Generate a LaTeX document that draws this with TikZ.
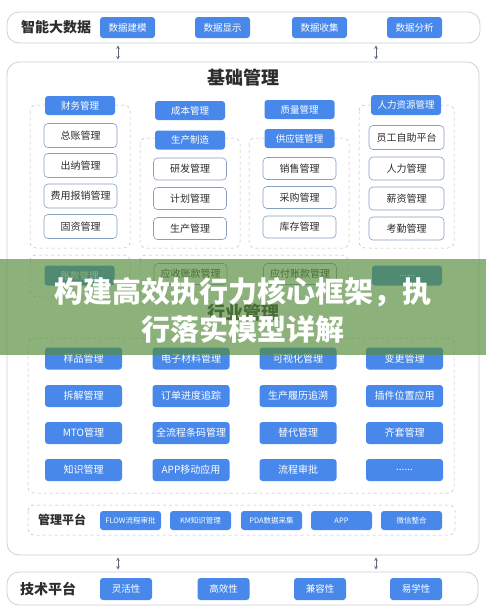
\documentclass[tikz,border=0pt]{standalone}
\usepackage{fontspec}
\setmainfont{Noto Sans CJK SC}
\usepackage{tikz}
\usetikzlibrary{arrows}
\usetikzlibrary{positioning}
\definecolor{btnblue}{RGB}{72,136,234}
\definecolor{bandgray}{RGB}{205,208,216}
\definecolor{itemborder}{RGB}{135,158,192}
\definecolor{dashgray}{RGB}{185,188,196}
\definecolor{txtdark}{RGB}{45,45,48}
\definecolor{arrowgray}{RGB}{95,105,125}
\definecolor{bannergreen}{RGB}{86,140,58}
\tikzstyle{band} = [rectangle, draw=bandgray, line width=0.8pt, rounded corners=12pt, fill=white, inner sep=0pt]
\tikzstyle{btn} = [rectangle, rounded corners=3pt, fill=btnblue, text=white, inner sep=0pt, minimum width=70, minimum height=19, font=\fontsize{9.5}{11}\selectfont]
\tikzstyle{item} = [rectangle, rounded corners=4pt, draw=itemborder, line width=0.6pt, fill=white, text=txtdark, inner sep=0pt, minimum width=73, minimum height=24, font=\fontsize{10}{12}\selectfont]
\tikzstyle{grp} = [draw=dashgray, dashed, line width=0.5pt, rounded corners=6pt]
\tikzstyle{heading} = [text=txtdark, font=\bfseries\fontsize{14}{16}\selectfont]
\tikzstyle{arrow} = [<->, >=stealth, draw=arrowgray, line width=0.6pt, shorten >=2pt, shorten <=2pt]
\begin{document}
\begin{tikzpicture}[x=1pt,y=-1pt]
\useasboundingbox (0,0) rectangle (486,616);
\fill [white] (0,0) rectangle (486,616);

% 智能大数据
\node [band, minimum width=473, minimum height=31] (bigdata) at (243.5,27.5) {};
\node [heading] (bigdatat) at (56,27.5) {智能大数据};
\node [btn, minimum width=55, minimum height=21] (m1) at (127.5,27.5) {数据建模};
\node [btn, minimum width=55, minimum height=21] (m2) at (222.5,27.5) {数据显示};
\node [btn, minimum width=55, minimum height=21] (m3) at (319.5,27.5) {数据收集};
\node [btn, minimum width=55, minimum height=21] (m4) at (414.5,27.5) {数据分析};

% 基础管理
\node [band, minimum width=472, minimum height=493] (base) at (243,308.5) {};
\node [heading, font=\bfseries\fontsize{18}{20}\selectfont] (baset) at (243,78) {基础管理};

\draw [grp] (30,105) rectangle (130,248);
\node [btn] (fin) at (80,105.5) {财务管理};
\node [item] (f1) at (80.5,135.5) {总账管理};
\node [item] (f2) at (80.5,165.5) {出纳管理};
\node [item] (f3) at (80.5,196) {费用报销管理};
\node [item] (f4) at (80.5,226.5) {固资管理};

\node [btn] (cost) at (190,110.5) {成本管理};
\draw [grp] (140,138) rectangle (240,248);
\node [btn] (prod) at (190,140) {生产制造};
\node [item, minimum height=22] (p1) at (190,169) {研发管理};
\node [item, minimum height=22] (p2) at (190,198.5) {计划管理};
\node [item, minimum height=22] (p3) at (190,228.5) {生产管理};

\node [btn] (qual) at (299.5,109.5) {质量管理};
\draw [grp] (249,138) rectangle (349,248);
\node [btn] (supp) at (299.5,138.5) {供应链管理};
\node [item, minimum height=22] (s1) at (299.5,168.5) {销售管理};
\node [item, minimum height=22] (s2) at (299.5,197.5) {采购管理};
\node [item, minimum height=22] (s3) at (299.5,227) {库存管理};

\draw [grp] (359,105) rectangle (454,248);
\node [btn, minimum height=20] (hr) at (406,105) {人力资源管理};
\node [item, minimum width=75] (h1) at (406.5,137.5) {员工自助平台};
\node [item, minimum width=75, minimum height=23] (h2) at (406.5,168.5) {人力管理};
\node [item, minimum width=75, minimum height=23] (h3) at (406.5,198.5) {薪资管理};
\node [item, minimum width=75, minimum height=23] (h4) at (406.5,228.5) {考勤管理};

\draw [grp] (30,255) rectangle (130,297);
\node [btn, minimum height=20] (acc) at (79.5,275.5) {账款管理};
\draw [grp] (140,255) rectangle (348,297);
\node [item, minimum height=21] (recv) at (190.5,274) {应收账款管理};
\node [item, minimum height=21] (pay) at (300,274) {应付账款管理};
\node [btn, minimum height=20] (accx) at (407,275.5) {......};

% 行业管理
\node [heading, font=\bfseries\fontsize{18}{20}\selectfont] (indt) at (243,313) {行业管理};
\draw [grp] (28,338) rectangle (454,493);
\node [btn, minimum width=77, minimum height=22, font=\fontsize{10}{12}\selectfont] (i11) at (83.5,358.5) {样品管理};
\node [btn, minimum width=77, minimum height=22, font=\fontsize{10}{12}\selectfont] (i12) at (191,358.5) {电子材料管理};
\node [btn, minimum width=77, minimum height=22, font=\fontsize{10}{12}\selectfont] (i13) at (298,358.5) {可视化管理};
\node [btn, minimum width=77, minimum height=22, font=\fontsize{10}{12}\selectfont] (i14) at (404.5,358.5) {变更管理};
\node [btn, minimum width=77, minimum height=22, font=\fontsize{10}{12}\selectfont] (i21) at (83.5,396) {拆解管理};
\node [btn, minimum width=77, minimum height=22, font=\fontsize{10}{12}\selectfont] (i22) at (191,396) {订单进度追踪};
\node [btn, minimum width=77, minimum height=22, font=\fontsize{10}{12}\selectfont] (i23) at (298,396) {生产履历追溯};
\node [btn, minimum width=77, minimum height=22, font=\fontsize{10}{12}\selectfont] (i24) at (404.5,396) {插件位置应用};
\node [btn, minimum width=77, minimum height=22, font=\fontsize{10}{12}\selectfont] (i31) at (83.5,433) {MTO管理};
\node [btn, minimum width=77, minimum height=22, font=\fontsize{10}{12}\selectfont] (i32) at (191,433) {全流程条码管理};
\node [btn, minimum width=77, minimum height=22, font=\fontsize{10}{12}\selectfont] (i33) at (298,433) {替代管理};
\node [btn, minimum width=77, minimum height=22, font=\fontsize{10}{12}\selectfont] (i34) at (404.5,433) {齐套管理};
\node [btn, minimum width=77, minimum height=22, font=\fontsize{10}{12}\selectfont] (i41) at (83.5,470) {知识管理};
\node [btn, minimum width=77, minimum height=22, font=\fontsize{10}{12}\selectfont] (i42) at (191,470) {APP移动应用};
\node [btn, minimum width=77, minimum height=22, font=\fontsize{10}{12}\selectfont] (i43) at (298,470) {流程审批};
\node [btn, minimum width=77, minimum height=22, font=\fontsize{10}{12}\selectfont] (i44) at (404.5,470) {......};

% 管理平台
\draw [grp] (28,505) rectangle (455,535);
\node [heading, font=\bfseries\fontsize{12}{14}\selectfont] (mgmtt) at (62,520) {管理平台};
\node [btn, minimum width=61, font=\fontsize{7.5}{9}\selectfont] (g1) at (130.5,520.5) {FLOW流程审批};
\node [btn, minimum width=61, font=\fontsize{7.5}{9}\selectfont] (g2) at (200.5,520.5) {KM知识管理};
\node [btn, minimum width=61, font=\fontsize{7.5}{9}\selectfont] (g3) at (271.5,520.5) {PDA数据采集};
\node [btn, minimum width=61, font=\fontsize{7.5}{9}\selectfont] (g4) at (341.5,520.5) {APP};
\node [btn, minimum width=61, font=\fontsize{7.5}{9}\selectfont] (g5) at (411.5,520.5) {微信整合};

% 技术平台
\node [band, minimum width=471, minimum height=33] (tech) at (242.5,588.5) {};
\node [heading] (techt) at (48,589) {技术平台};
\node [btn, minimum width=52, minimum height=22] (t1) at (126,589) {灵活性};
\node [btn, minimum width=52, minimum height=22] (t2) at (223.5,589) {高效性};
\node [btn, minimum width=52, minimum height=22] (t3) at (320,589) {兼容性};
\node [btn, minimum width=52, minimum height=22] (t4) at (416,589) {易学性};

\coordinate (c1) at (118,0);
\coordinate (c2) at (376,0);
\draw [arrow] (bigdata.south -| c1) to (base.north -| c1);
\draw [arrow] (bigdata.south -| c2) to (base.north -| c2);
\draw [arrow] (base.south -| c1) to (tech.north -| c1);
\draw [arrow] (base.south -| c2) to (tech.north -| c2);

% banner
\fill [bannergreen, fill opacity=0.67] (0,259) rectangle (486,355);
\node [text=white, align=center, font=\bfseries\fontsize{29}{38}\selectfont] (banner) at (243,310) {构建高效执行力核心框架，执\\行落实模型详解};
\end{tikzpicture}
\end{document}
